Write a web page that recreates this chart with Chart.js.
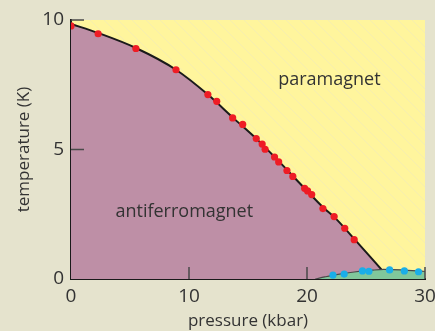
<!DOCTYPE html>
<html>
<head>
<meta charset="utf-8">
<script src="https://cdn.jsdelivr.net/npm/chart.js@4"></script>
<style>
  html, body { margin: 0; padding: 0; background: #e5e3cd; }
  #wrap { width: 435px; height: 331px; }
</style>
</head>
<body>
<div id="wrap"><canvas id="chart" width="435" height="331"></canvas></div>
<script>
// measured points (pressure in kbar, temperature in K)
var afmP = [0, 2.3, 5.5, 8.9, 11.6, 12.35, 13.7, 14.55, 15.7, 16.2, 16.45, 17.25, 17.6, 18.3, 18.8, 19.8, 20.05, 20.4, 21.35, 22.3, 23.2, 24.0];
var afmT = [9.77, 9.47, 8.9, 8.08, 7.12, 6.86, 6.22, 5.97, 5.42, 5.21, 5.01, 4.71, 4.52, 4.19, 3.96, 3.5, 3.4, 3.26, 2.72, 2.41, 1.96, 1.52];
var scP = [22.2, 23.15, 24.7, 25.25, 27.0, 28.25, 29.45];
var scT = [0.15, 0.19, 0.31, 0.3, 0.35, 0.31, 0.28];

// phase boundaries
var boundP = [0, 2.3, 5.5, 8.9, 11.6, 13.7, 15.7, 17.6, 19.8, 21.4, 22.4, 24.0, 26.3];
var boundT = [9.85, 9.5, 8.92, 8.08, 7.12, 6.24, 5.42, 4.55, 3.5, 2.75, 2.35, 1.55, 0.37];
var domeP = [20.7, 21.5, 22.5, 24.0, 25.5, 26.5, 28.0, 30.0];
var domeT = [0, 0.08, 0.17, 0.27, 0.34, 0.37, 0.35, 0.29];

var xTicks = [0, 10, 20, 30];
var yTicks = [0, 5, 10];

var phaseNames = ['paramagnet', 'antiferromagnet'];
var phaseP = [21.9, 9.6];
var phaseT = [7.7, 2.6];

function pts(xs, ys) {
    var out = [];
    for (var i = 0; i < xs.length; i++) out.push({x: xs[i], y: ys[i]});
    return out;
}

// faint diagonal hatch on the paramagnet area
var hatch = document.createElement('canvas');
hatch.width = 14; hatch.height = 14;
var hc = hatch.getContext('2d');
hc.fillStyle = '#fff59d';
hc.fillRect(0, 0, 14, 14);
hc.strokeStyle = 'rgba(235,230,195,0.45)';
hc.lineWidth = 1;
hc.beginPath();
hc.moveTo(-1, -1); hc.lineTo(15, 15);
hc.moveTo(-1, 13); hc.lineTo(1, 15);
hc.moveTo(13, -1); hc.lineTo(15, 1);
hc.stroke();

var bgPlugin = {
    id: 'bg',
    beforeDraw: function (chart) {
        var c = chart.ctx, a = chart.chartArea;
        c.save();
        c.fillStyle = c.createPattern(hatch, 'repeat');
        c.fillRect(a.left, a.top, a.right - a.left, a.bottom - a.top);
        c.restore();
    },
    afterDraw: function (chart) {
        var c = chart.ctx, xs = chart.scales.x, ys = chart.scales.y;
        c.save();
        // inner tick marks
        c.strokeStyle = '#4a4a4a';
        c.lineWidth = 1.5;
        c.beginPath();
        xTicks.forEach(function (v) {
            if (v === 0) return;
            var px = xs.getPixelForValue(v);
            c.moveTo(px, ys.bottom); c.lineTo(px, ys.bottom - 12);
        });
        yTicks.forEach(function (v) {
            if (v === 0) return;
            var py = ys.getPixelForValue(v);
            c.moveTo(xs.left, py); c.lineTo(xs.left + 13, py);
        });
        c.stroke();
        // phase names
        c.fillStyle = '#333';
        c.font = '18px "Open Sans", sans-serif';
        c.textAlign = 'center';
        c.textBaseline = 'middle';
        for (var i = 0; i < phaseNames.length; i++) {
            c.fillText(phaseNames[i], xs.getPixelForValue(phaseP[i]), ys.getPixelForValue(phaseT[i]));
        }
        c.restore();
    }
};

var font = {family: '"Open Sans", sans-serif', size: 19};

new Chart(document.getElementById('chart'), {
    type: 'scatter',
    data: {
        datasets: [{
            label: 'AFM',
            data: pts(afmP, afmT),
            backgroundColor: '#ee1c25',
            borderWidth: 0,
            pointRadius: 3.6,
            order: 0
        }, {
            label: 'SC',
            data: pts(scP, scT),
            backgroundColor: '#1aaee8',
            borderWidth: 0,
            pointRadius: 3.6,
            order: 1
        }, {
            label: 'dome',
            type: 'line',
            data: pts(domeP, domeT),
            borderColor: '#4a4a4a',
            borderWidth: 1.2,
            backgroundColor: '#80c79b',
            fill: 'origin',
            pointRadius: 0,
            cubicInterpolationMode: 'monotone',
            order: 2
        }, {
            label: 'boundary',
            type: 'line',
            data: pts(boundP, boundT),
            borderColor: '#1a1a1a',
            borderWidth: 2,
            backgroundColor: '#be8fa6',
            fill: 'origin',
            pointRadius: 0,
            cubicInterpolationMode: 'monotone',
            order: 3
        }]
    },
    options: {
        responsive: false,
        animation: false,
        layout: {padding: {top: 20, right: 0, left: 0, bottom: 0}},
        plugins: {legend: {display: false}, tooltip: {enabled: false}},
        scales: {
            x: {
                type: 'linear', min: 0, max: 30,
                afterFit: function (s) { s.height = 52; s.paddingRight = 10; },
                afterBuildTicks: function (s) { s.ticks = xTicks.map(function (v) { return {value: v}; }); },
                grid: {display: false, drawTicks: false},
                border: {display: true, color: '#1a1a1a', width: 2},
                ticks: {color: '#333', font: font, padding: 6, maxRotation: 0},
                title: {display: true, text: 'pressure (kbar)', color: '#333',
                        font: {family: font.family, size: 17}, padding: {top: 0, bottom: 0}}
            },
            y: {
                type: 'linear', min: 0, max: 10,
                afterFit: function (s) { s.width = 71; },
                afterBuildTicks: function (s) { s.ticks = yTicks.map(function (v) { return {value: v}; }); },
                grid: {display: false, drawTicks: false},
                border: {display: true, color: '#1a1a1a', width: 2},
                ticks: {color: '#333', font: font, padding: 7},
                title: {display: true, text: 'temperature (K)', color: '#333',
                        font: {family: font.family, size: 17}, padding: {top: 14, bottom: 0}}
            }
        }
    },
    plugins: [bgPlugin]
});
</script>
</body>
</html>
